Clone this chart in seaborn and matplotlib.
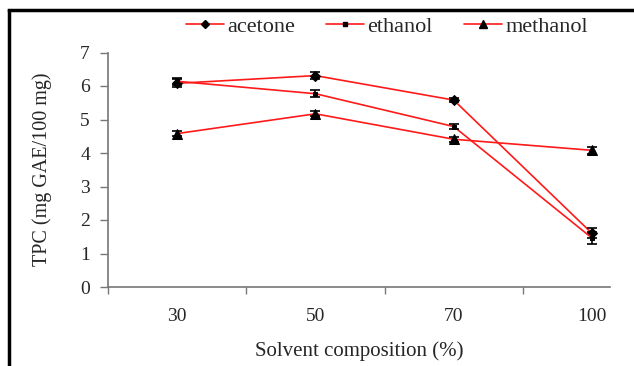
import matplotlib
matplotlib.use("Agg")
import matplotlib.pyplot as plt
from matplotlib.lines import Line2D
import seaborn as sns
import pandas as pd

# Total phenolic content by solvent and composition
compositions = ["30", "50", "70", "100"]
solvents = ["acetone", "ethanol", "methanol"]
acetone = [6.08, 6.31, 5.58, 1.60]
ethanol = [6.14, 5.77, 4.79, 1.46]
methanol = [4.58, 5.17, 4.41, 4.08]
acetone_err = [0.12, 0.10, 0.05, 0.15]
ethanol_err = [0.10, 0.10, 0.07, 0.18]
methanol_err = [0.07, 0.08, 0.07, 0.10]

values = {"acetone": acetone, "ethanol": ethanol, "methanol": methanol}
errors = {"acetone": acetone_err, "ethanol": ethanol_err, "methanol": methanol_err}
markers = {"acetone": "D", "ethanol": "s", "methanol": "^"}
msizes = {"acetone": 5, "ethanol": 3.5, "methanol": 7}

rows = []
for s in solvents:
    for i, c in enumerate(compositions):
        rows.append({"solvent": s, "pos": i, "composition": c,
                     "tpc": values[s][i], "err": errors[s][i]})
df = pd.DataFrame(rows)

sns.set_style("white")
plt.rcParams["font.family"] = ["Liberation Serif", "DejaVu Serif"]

fig = plt.figure(figsize=(6.34, 3.66), dpi=100)
ax = fig.add_axes([108 / 634, 1 - 287 / 366, (610 - 108) / 634, (287 - 52.5) / 366])

for s in solvents:
    sub = df[df["solvent"] == s]
    sns.lineplot(data=sub, x="pos", y="tpc", ax=ax, color="#ff1a1a", lw=1.2,
                 marker=markers[s], markersize=msizes[s], mfc="black", mec="black",
                 legend=False, zorder=3)
    ax.errorbar(sub["pos"], sub["tpc"], yerr=sub["err"], fmt="none",
                ecolor="black", elinewidth=1.2, capsize=3.5, capthick=1.2, zorder=4)

ax.set_xlim(-0.5, 3.13)
ax.set_ylim(0, 7)
ax.set_yticks(range(0, 8))
ax.set_xticks([0, 1, 2, 3])
ax.set_xticklabels(compositions)
ax.set_xticks([-0.5, 0.5, 1.5, 2.5], minor=True)
ax.tick_params(axis="x", which="major", bottom=True, length=0, pad=15, labelsize=14)
ax.tick_params(axis="x", which="minor", bottom=True, length=5, width=1,
               color="#777777", direction="out")
ax.tick_params(axis="y", left=True, length=6, width=1, color="#777777",
               direction="out", labelsize=14, pad=7)

for side in ["top", "right"]:
    ax.spines[side].set_visible(False)
for side in ["left", "bottom"]:
    ax.spines[side].set_color("#777777")
    ax.spines[side].set_linewidth(1.2)

ax.set_xlabel("Solvent composition (%)", fontsize=15, labelpad=12)
ax.set_ylabel("TPC (mg GAE/100 mg)", fontsize=14.5, labelpad=20)

handles = [Line2D([], [], color="#ff1a1a", lw=1.2, marker=markers[s],
                  markersize=msizes[s] * 0.85, mfc="black", mec="black") for s in solvents]
fig.legend(handles, solvents, loc="center", bbox_to_anchor=(387 / 634, 1 - 27 / 366),
           ncol=3, frameon=False, fontsize=16, handlelength=1.7, handletextpad=0.15,
           columnspacing=1.4)

# Outer frame on the left and top
fig.add_artist(Line2D([9 / 634, 9 / 634], [0, 1 - 9 / 366], transform=fig.transFigure,
                      color="black", lw=2.5, solid_capstyle="butt"))
fig.add_artist(Line2D([9 / 634, 1], [1 - 10 / 366, 1 - 10 / 366], transform=fig.transFigure,
                      color="black", lw=2.5, solid_capstyle="projecting"))

fig.savefig("out.png", dpi=100)
